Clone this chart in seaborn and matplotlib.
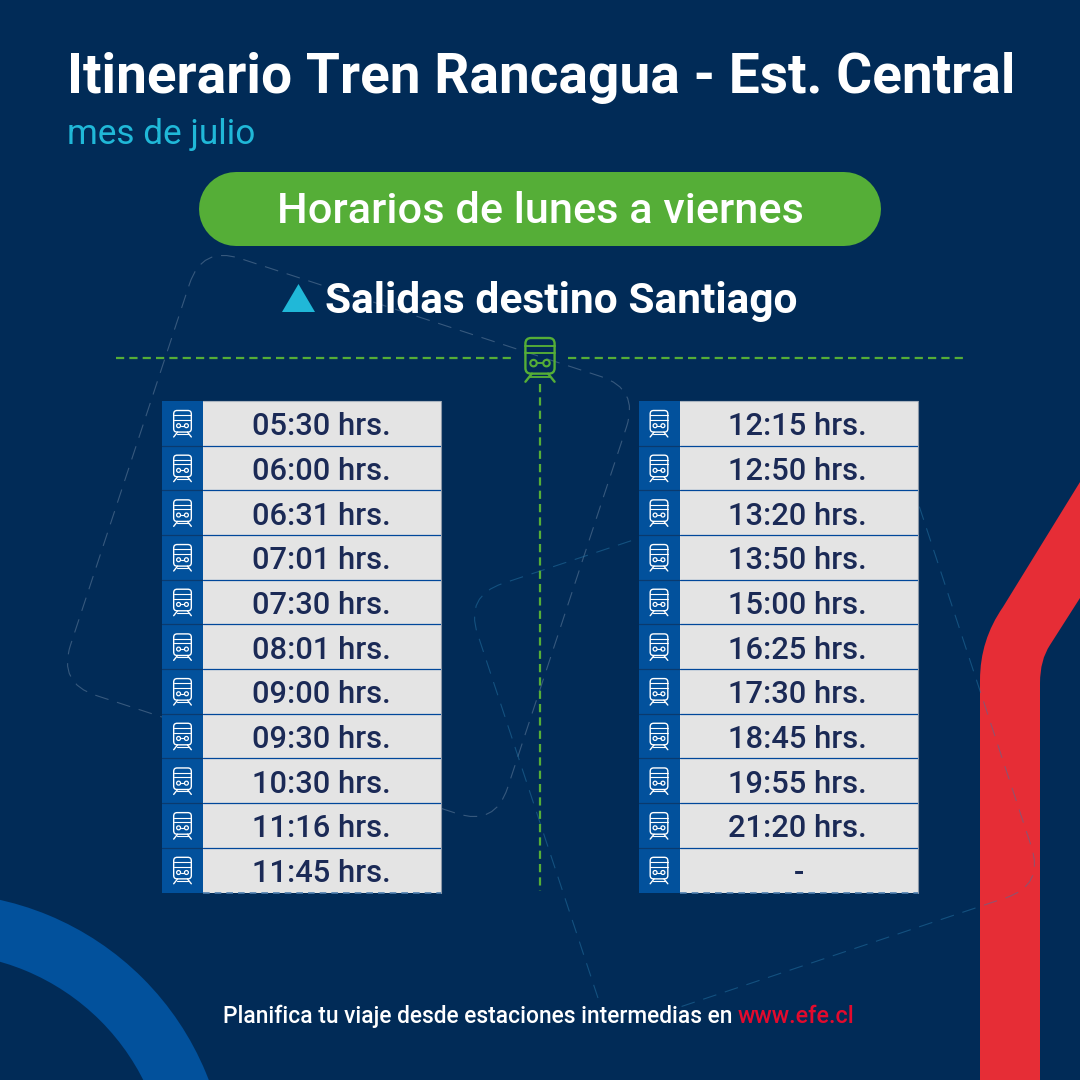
import numpy as np
import matplotlib
matplotlib.use("Agg")
import matplotlib.pyplot as plt
from matplotlib.colors import ListedColormap
from matplotlib.patches import Circle, FancyBboxPatch, Polygon, Wedge, PathPatch
from matplotlib.path import Path
import seaborn as sns

# ---------- content ----------
title = "Itinerario Tren Rancagua - Est. Central"
subtitle = "mes de julio"
pill_text = "Horarios de lunes a viernes"
section = "Salidas destino Santiago"
foot_white = "Planifica tu viaje desde estaciones intermedias en"
foot_red = "www.efe.cl"
times_left = ["05:30 hrs.", "06:00 hrs.", "06:31 hrs.", "07:01 hrs.", "07:30 hrs.", "08:01 hrs.",
              "09:00 hrs.", "09:30 hrs.", "10:30 hrs.", "11:16 hrs.", "11:45 hrs."]
times_right = ["12:15 hrs.", "12:50 hrs.", "13:20 hrs.", "13:50 hrs.", "15:00 hrs.", "16:25 hrs.",
               "17:30 hrs.", "18:45 hrs.", "19:55 hrs.", "21:20 hrs.", "-"]

BG = "#012b57"; BLUE = "#02519c"; GRAY = "#e4e4e4"; GREEN = "#55ae37"
CYAN = "#20b8d8"; RED = "#e62d36"; INK = "#1b2a56"
FONT = "Roboto"

sns.set_theme(style="white")
plt.rcParams["font.family"] = [FONT, "DejaVu Sans"]
fig = plt.figure(figsize=(10.8, 10.8), dpi=100, facecolor=BG)


def pixel_axes(zorder):
    ax = fig.add_axes([0, 0, 1, 1], zorder=zorder)
    ax.set_xlim(0, 1080); ax.set_ylim(1080, 0); ax.axis("off")
    ax.patch.set_alpha(0)
    return ax


def rounded(points, r, closed=True):
    """Path through corner points, each corner rounded off by r."""
    pts = [np.array(p, float) for p in points]
    verts, codes = [], []
    n = len(pts)
    rng = range(n) if closed else range(1, n - 1)
    if not closed:
        verts.append(pts[0]); codes.append(Path.MOVETO)
    for i in rng:
        p, a, b = pts[i], pts[i - 1], pts[(i + 1) % n]
        u = (a - p) / np.linalg.norm(a - p); v = (b - p) / np.linalg.norm(b - p)
        verts.append(p + u * r); codes.append(Path.MOVETO if closed and i == 0 else Path.LINETO)
        verts += [p, p + v * r]; codes += [Path.CURVE3, Path.CURVE3]
    if closed:
        verts.append(verts[0]); codes.append(Path.LINETO)
    else:
        verts.append(pts[-1]); codes.append(Path.LINETO)
    return Path(verts, codes)


def fit_text(ax, x, y, s, width, color, weight="normal", ha="left", zorder=5):
    t = ax.text(x, y, s, color=color, fontsize=20, fontweight=weight, ha=ha, va="baseline", zorder=zorder)
    r = fig.canvas.get_renderer()
    t.set_fontsize(20 * width / t.get_window_extent(r).width)
    return t


def train(ax, cx, top, k, color, lw):
    ax.add_patch(FancyBboxPatch((cx - 9 * k, top), 18 * k, 22 * k, boxstyle=f"round,pad=0,rounding_size={3.5*k}",
                                fill=False, ec=color, lw=lw, zorder=6))
    for dy in (5, 9.5):
        ax.plot([cx - 9 * k, cx + 9 * k], [top + dy * k] * 2, color=color, lw=lw * 0.8, zorder=6)
    for dx in (-4, 4):
        ax.add_patch(Circle((cx + dx * k, top + 15.5 * k), 2 * k, fill=False, ec=color, lw=lw * 0.9, zorder=6))
    ax.plot([cx - 2 * k, cx + 2 * k], [top + 15.5 * k] * 2, color=color, lw=lw * 0.8, zorder=6)
    ax.plot([cx - 5 * k, cx - 9 * k], [top + 22 * k, top + 27 * k], color=color, lw=lw, zorder=6)
    ax.plot([cx + 5 * k, cx + 9 * k], [top + 22 * k, top + 27 * k], color=color, lw=lw, zorder=6)
    ax.plot([cx - 6 * k, cx + 6 * k], [top + 24 * k] * 2, color=color, lw=lw * 0.8, zorder=6)


# ---------- background layer ----------
bg = pixel_axes(0)
bg.add_patch(Wedge((-63, 1184), 291, 0, 360, width=60, fc=BLUE, ec="none", zorder=1))
red_path = Path(
    [(980, 1080), (980, 680), (980, 640), (1003, 607), (1080, 482), (1080, 598), (1050, 645),
     (1040, 660), (1040, 683), (1040, 1080), (980, 1080)],
    [Path.MOVETO, Path.LINETO, Path.CURVE3, Path.CURVE3, Path.LINETO, Path.LINETO, Path.LINETO,
     Path.CURVE3, Path.CURVE3, Path.LINETO, Path.CLOSEPOLY])
bg.add_patch(PathPatch(red_path, fc=RED, ec="none", zorder=1))

bg.add_patch(PathPatch(rounded([(202, 246), (639, 389), (495, 826), (58, 683)], 40),
                       fill=False, ec="#8ea3bb", alpha=0.38, lw=0.8, ls=(0, (12.5, 8)), zorder=2))
bg.add_patch(PathPatch(rounded([(598, 998), (465, 596), (901, 451), (1044, 885), (680, 1007)], 40, closed=False),
                       fill=False, ec="#2a7fb0", alpha=0.45, lw=0.8, ls=(0, (12.5, 8)), zorder=2))

bg.plot([236, 844], [209, 209], color=GREEN, lw=74 * 0.72, solid_capstyle="round", zorder=3)
bg.add_patch(Polygon([(282, 312), (315, 312), (298.5, 284)], fc=CYAN, ec="none", zorder=3))

green_dash = dict(color=GREEN, lw=1.6, ls=(0, (3.7, 2.3)), zorder=3)
bg.plot([116, 515], [358, 358], **green_dash)
bg.plot([568, 964], [358, 358], **green_dash)
bg.plot([540, 540], [384, 891], **green_dash)

# ---------- timetables ----------
TOP, BOT = 401, 892.5


def table(x0, labels, text_x):
    n = len(labels)
    ax_i = fig.add_axes([x0 / 1080, 1 - BOT / 1080, 41 / 1080, (BOT - TOP) / 1080], zorder=1)
    sns.heatmap(np.zeros((n, 1)), ax=ax_i, cmap=ListedColormap([BLUE]), cbar=False,
                xticklabels=False, yticklabels=False)
    ax_t = fig.add_axes([(x0 + 41) / 1080, 1 - BOT / 1080, 238 / 1080, (BOT - TOP) / 1080], zorder=1)
    sns.heatmap(np.zeros((n, 1)), ax=ax_t, cmap=ListedColormap([GRAY]), cbar=False,
                annot=np.array(labels).reshape(-1, 1), fmt="",
                annot_kws=dict(color=INK, fontsize=22.2, fontweight="medium", family=FONT),
                xticklabels=False, yticklabels=False)
    for t in ax_t.texts:
        px, py = t.get_position()
        if t.get_text() == "-":
            t.set_position((px, py + 0.075))
        else:
            t.set_ha("left")
            t.set_position(((text_x - x0 - 41) / 238, py + 0.075))
    for r in range(1, n):
        ax_i.axhline(r, color="#0a3a6e", lw=0.9)
        ax_t.axhline(r, color="#00479a", lw=0.9)
    ax_t.axhline(0, color="#a9b3bf", lw=0.8, clip_on=False)
    ax_t.axvline(1, color="#8b98a8", lw=0.8, clip_on=False)
    ax_t.plot([0, 1], [n, n], color="#4f7fae", lw=1.2, ls=(0, (4, 3)), clip_on=False)


table(162, times_left, 252)
table(639, times_right, 728)

# ---------- overlay: text and icons ----------
top = pixel_axes(3)
fig.canvas.draw()
fit_text(top, 67, 93, title, 946, "white", "bold")
fit_text(top, 67, 144, subtitle, 188, CYAN, "normal")
fit_text(top, 277, 223, pill_text, 526, "white", "medium")
fit_text(top, 325, 313, section, 472, "white", "bold")
fit_text(top, 223, 1023, foot_white, 509, "white", "medium")
fit_text(top, 738, 1023, foot_red, 117, "#e30a2d", "medium")

train(top, 540, 338, 1.62, GREEN, 1.7)
step = (BOT - TOP) / 11
for x0 in (182.5, 659):
    for i in range(11):
        train(top, x0, TOP + 9.5 + i * step, 0.98, "white", 1.0)

fig.savefig("out.png", dpi=100, facecolor=BG)
